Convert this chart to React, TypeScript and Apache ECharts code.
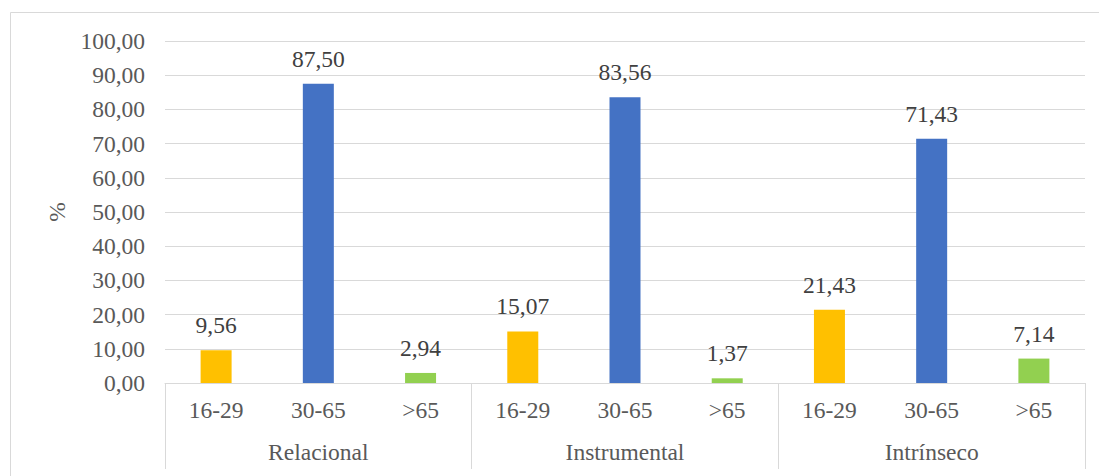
import React, { useEffect, useRef } from "react";
import * as echarts from "echarts";

// Age groups (first tier of the category axis) and their bar colours
const ageGroups = ["16-29", "30-65", ">65"];
const ageColors = ["#FFC000", "#4472C4", "#92D050"];

// Motivation types (second tier of the category axis)
const motivations = ["Relacional", "Instrumental", "Intrínseco"];

// Percentages per motivation, ordered by age group
const relacional = [9.56, 87.5, 2.94];
const instrumental = [15.07, 83.56, 1.37];
const intrinseco = [21.43, 71.43, 7.14];

const yTicks = { min: 0, max: 100, interval: 10 };

const FONT = "Liberation Serif, Times New Roman, serif";
const SIZE = 23.5;
const fmt = (v: number) => v.toFixed(2).replace(".", ",");

export default function App() {
  const ref = useRef<HTMLDivElement>(null);

  useEffect(() => {
    if (!ref.current) return;
    const chart = echarts.init(ref.current, undefined, { renderer: "svg" });

    const groups = [relacional, instrumental, intrinseco];
    const categories: string[] = [];
    const barData: any[] = [];
    groups.forEach((vals) => {
      vals.forEach((v, i) => {
        categories.push(ageGroups[i]);
        barData.push({ value: v, itemStyle: { color: ageColors[i] } });
      });
    });

    chart.setOption({
      animation: false,
      backgroundColor: "#ffffff",
      textStyle: { fontFamily: FONT },
      grid: { left: 165, right: 14, top: 41, bottom: 93, containLabel: false },
      graphic: [
        {
          type: "line",
          shape: { x1: 10.5, y1: 12.5, x2: 1099, y2: 12.5 },
          style: { stroke: "#d9d9d9", lineWidth: 1 },
        },
        {
          type: "line",
          shape: { x1: 10.5, y1: 12.5, x2: 10.5, y2: 476 },
          style: { stroke: "#d9d9d9", lineWidth: 1 },
        },
      ],
      xAxis: [
        {
          type: "category",
          data: categories,
          position: "bottom",
          axisLine: { show: true, lineStyle: { color: "#d9d9d9", width: 1 } },
          axisTick: { show: false },
          axisLabel: {
            interval: 0,
            margin: 15,
            fontFamily: FONT,
            fontSize: SIZE,
            color: "#595959",
          },
          splitLine: { show: false },
        },
        {
          type: "category",
          data: motivations,
          position: "bottom",
          axisLine: { show: false },
          axisTick: {
            show: true,
            length: 86,
            lineStyle: { color: "#d9d9d9", width: 1 },
          },
          axisLabel: {
            interval: 0,
            margin: 57,
            fontFamily: FONT,
            fontSize: SIZE,
            color: "#595959",
          },
          splitLine: { show: false },
        },
      ],
      yAxis: {
        type: "value",
        min: yTicks.min,
        max: yTicks.max,
        interval: yTicks.interval,
        name: "%",
        nameLocation: "middle",
        nameRotate: 90,
        nameGap: 95,
        nameTextStyle: { fontFamily: FONT, fontSize: SIZE, color: "#595959" },
        axisLine: { show: false },
        axisTick: { show: false },
        axisLabel: {
          margin: 20,
          fontFamily: FONT,
          fontSize: SIZE,
          color: "#595959",
          formatter: (v: number) => fmt(v),
        },
        splitLine: { lineStyle: { color: "#d9d9d9", width: 1 } },
      },
      series: [
        {
          type: "bar",
          xAxisIndex: 0,
          data: barData,
          barWidth: 31,
          label: {
            show: true,
            position: "top",
            distance: 13,
            fontFamily: FONT,
            fontSize: SIZE,
            color: "#404040",
            formatter: (p: any) => fmt(p.value),
          },
        },
      ],
    });

    return () => chart.dispose();
  }, []);

  return (
    <div
      ref={ref}
      style={{ position: "absolute", left: 0, top: 0, width: 1099, height: 476 }}
    />
  );
}
